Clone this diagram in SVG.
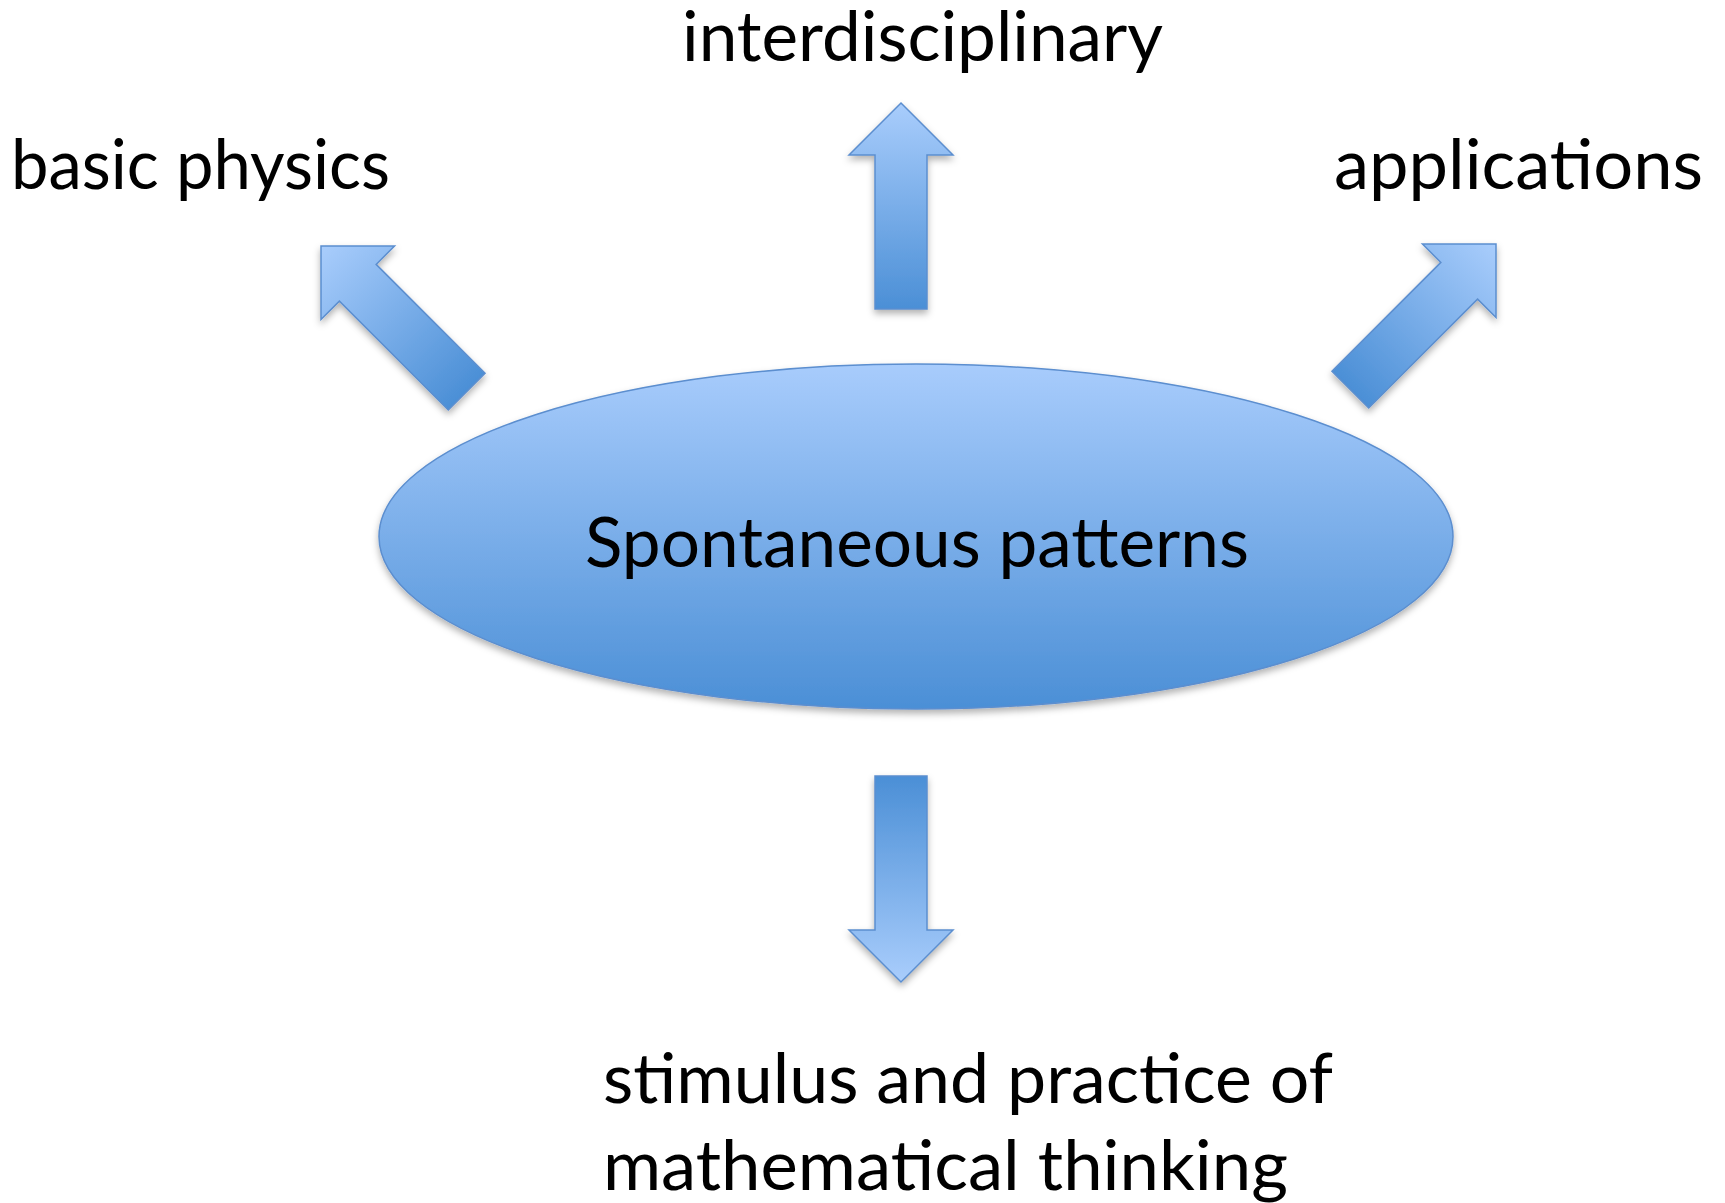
<svg xmlns="http://www.w3.org/2000/svg" xmlns:xlink="http://www.w3.org/1999/xlink" width="1725" height="1203" viewBox="0 0 1725 1203">
  <style>
    .lbl { font-family: "Lato", "Open Sans", "Liberation Sans", sans-serif; font-size: 70px; fill: #000000; }
    .shape { stroke: #5B8ECF; stroke-width: 1.5; }
  </style>
  <defs>
    <linearGradient id="gEll" x1="0" y1="0" x2="0" y2="1">
      <stop offset="0" stop-color="#A8CCFC"/>
      <stop offset="1" stop-color="#4B8FD6"/>
    </linearGradient>
    <linearGradient id="gArr" x1="0" y1="0" x2="0" y2="1">
      <stop offset="0" stop-color="#A9CDFC"/>
      <stop offset="1" stop-color="#4B8FD6"/>
    </linearGradient>
    <filter id="shadow" x="-20%" y="-20%" width="140%" height="150%">
      <feDropShadow dx="0" dy="4" stdDeviation="3.5" flood-color="#000000" flood-opacity="0.3"/>
    </filter>
    <path id="arrowShape" d="M0,0 L52,52 L26,52 L26,206 L-26,206 L-26,52 L-52,52 Z"/>
  </defs>

  <g id="connectors">
    <g id="arrow-basic-physics" filter="url(#shadow)">
      <use xlink:href="#arrowShape" class="shape" fill="url(#gArr)" transform="translate(321,246) rotate(-45)"/>
    </g>
    <g id="arrow-interdisciplinary" filter="url(#shadow)">
      <use xlink:href="#arrowShape" class="shape" fill="url(#gArr)" transform="translate(901,103)"/>
    </g>
    <g id="arrow-applications" filter="url(#shadow)">
      <use xlink:href="#arrowShape" class="shape" fill="url(#gArr)" transform="translate(1496,244) rotate(45)"/>
    </g>
    <g id="arrow-stimulus" filter="url(#shadow)">
      <use xlink:href="#arrowShape" class="shape" fill="url(#gArr)" transform="translate(901,982) rotate(180)"/>
    </g>
  </g>

  <g id="node-center">
    <ellipse cx="916" cy="536.5" rx="537" ry="172.5" class="shape" fill="url(#gEll)" filter="url(#shadow)"/>
    <text class="lbl" x="585" y="567" textLength="664" lengthAdjust="spacingAndGlyphs">Spontaneous patterns</text>
  </g>

  <g id="node-interdisciplinary">
    <text class="lbl" x="682" y="61" textLength="481" lengthAdjust="spacingAndGlyphs">interdisciplinary</text>
  </g>

  <g id="node-basic-physics">
    <text class="lbl" x="11" y="189" textLength="379" lengthAdjust="spacingAndGlyphs">basic physics</text>
  </g>

  <g id="node-applications">
    <text class="lbl" x="1334" y="189" textLength="369" lengthAdjust="spacingAndGlyphs">applications</text>
  </g>

  <g id="node-stimulus">
    <text class="lbl" x="603" y="1103" textLength="730" lengthAdjust="spacingAndGlyphs">stimulus and practice of</text>
    <text class="lbl" x="603" y="1190" textLength="685" lengthAdjust="spacingAndGlyphs">mathematical thinking</text>
  </g>
</svg>
